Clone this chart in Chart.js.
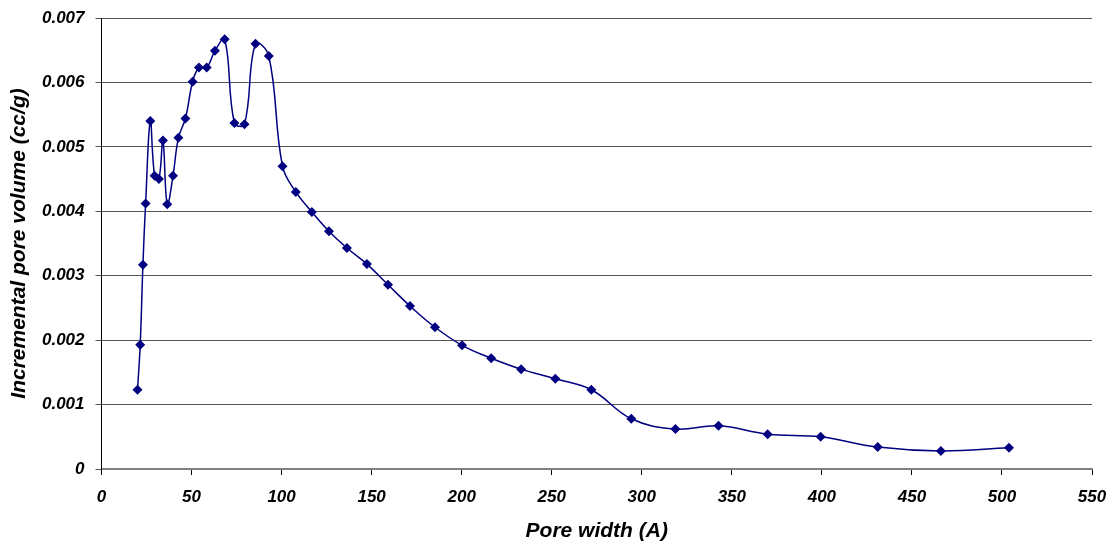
<!DOCTYPE html>
<html>
<head>
<meta charset="utf-8">
<script src="https://cdn.jsdelivr.net/npm/chart.js@4.4.1/dist/chart.umd.min.js"></script>
<style>
  html, body { margin: 0; padding: 0; background: #fff; }
  #wrap { width: 1116px; height: 548px; position: relative; }
</style>
</head>
<body>
<div id="wrap"><canvas id="poreChart"></canvas></div>
<script>
// pore width (A) and incremental pore volume (cc/g)
const poreWidth = [
  20.0, 21.5, 23.0, 24.5, 27.1, 29.5, 31.9, 34.1, 36.5, 39.7,
  42.7, 46.6, 50.6, 54.1, 58.4, 63.0, 68.4, 73.8, 79.4, 85.5,
  92.9, 100.5, 107.9, 116.8, 126.3, 136.3, 147.4, 159.1, 171.3, 185.2,
  200.2, 216.4, 233.0, 252.0, 272.0, 294.2, 318.7, 342.6, 369.9, 399.3,
  431.0, 466.1, 503.9
];
const poreVolume = [
  0.00123, 0.00193, 0.00317, 0.00412, 0.00540, 0.00455, 0.00450, 0.00510, 0.00411, 0.00455,
  0.00514, 0.00544, 0.00601, 0.00623, 0.00623, 0.00649, 0.00667, 0.00537, 0.00535, 0.00660,
  0.00641, 0.00470, 0.00430, 0.00399, 0.00369, 0.00343, 0.00318, 0.00286, 0.00253, 0.00220,
  0.00192, 0.00172, 0.00155, 0.00140, 0.00123, 0.00078, 0.00062, 0.00067, 0.00054, 0.00050,
  0.00034, 0.00028, 0.00033
];
const xTicks = [0, 50, 100, 150, 200, 250, 300, 350, 400, 450, 500, 550];
const yTicks = [0, 0.001, 0.002, 0.003, 0.004, 0.005, 0.006, 0.007];

const points = poreWidth.map((w, i) => ({ x: w, y: poreVolume[i] }));

const navy = '#000080';
const tickFont = { family: 'Liberation Sans, Arial, sans-serif', size: 17, weight: 'bold', style: 'italic' };
const titleFont = { family: 'Liberation Sans, Arial, sans-serif', size: 21, weight: 'bold', style: 'italic' };

new Chart(document.getElementById('poreChart').getContext('2d'), {
  type: 'line',
  data: {
    datasets: [{
      data: points,
      borderColor: navy,
      backgroundColor: navy,
      borderWidth: 1.5,
      tension: 0.4,
      pointStyle: 'rectRot',
      pointRadius: 5,
      pointBorderWidth: 0,
      pointBackgroundColor: navy,
      fill: false
    }]
  },
  options: {
    responsive: true,
    maintainAspectRatio: false,
    animation: false,
    layout: { autoPadding: false, padding: { top: 18, right: 24, left: 3, bottom: 0 } },
    plugins: { legend: { display: false }, tooltip: { enabled: false } },
    scales: {
      x: {
        type: 'linear',
        min: xTicks[0],
        max: xTicks[xTicks.length - 1],
        afterBuildTicks: s => { s.ticks = xTicks.map(v => ({ value: v })); },
        // fixed axis box, label overhang is covered by the layout padding
        afterFit: s => { s.height = 79; s.paddingLeft = 0; s.paddingRight = 0; },
        border: { color: '#808080', width: 2 },
        grid: { drawOnChartArea: false, drawTicks: true, tickLength: 6, color: '#000' },
        ticks: { color: '#000', font: tickFont, padding: 12, maxRotation: 0 },
        title: { display: true, text: 'Pore width (A)', color: '#000', font: titleFont, padding: { top: 6 } }
      },
      y: {
        type: 'linear',
        min: yTicks[0],
        max: yTicks[yTicks.length - 1],
        afterBuildTicks: s => { s.ticks = yTicks.map(v => ({ value: v })); },
        afterFit: s => { s.width = 98.5; s.paddingTop = 0; s.paddingBottom = 0; },
        border: { color: '#000', width: 1 },
        grid: { color: '#555', lineWidth: 1, drawTicks: true, tickLength: 6 },
        ticks: {
          color: '#000', font: tickFont, padding: 11,
          callback: v => v === 0 ? '0' : v.toFixed(3)
        },
        title: { display: true, text: 'Incremental pore volume (cc/g)', color: '#000', font: titleFont, padding: { bottom: 4 } }
      }
    }
  }
});
</script>
</body>
</html>
